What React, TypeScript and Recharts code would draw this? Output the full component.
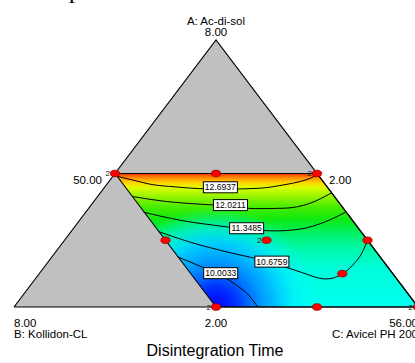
import { ComposedChart, XAxis, YAxis, Area, Line, Scatter } from 'recharts';

// Mixture: A = Ac-di-sol (2-8), B = Kollidon-CL (2-8), C = Avicel PH 200 (50-56), A + B + C = 60
// every point below is [A, C]; B is whatever is left
type Mix = [number, number];

const triangleCorners: Mix[] = [[2, 50], [8, 50], [2, 56], [2, 50]];
const regionCorners: Mix[] = [[5, 50], [5, 53], [2, 56], [2, 53], [5, 50]];
const regionTop: Mix[] = [[5, 50], [5, 51.5], [5, 53], [2, 56]];
const regionBottom: Mix[] = [[5, 50], [2, 53], [2, 54.5], [2, 56]];
const grayTop: Mix[] = [[5, 50], [8, 50], [5, 53]];
const grayLeft: Mix[] = [[2, 50], [5, 50], [2, 53]];
const lowestCorner: Mix = [2, 53];

const contourLevels = ['12.6937', '12.0211', '11.3485', '10.6759', '10.0033'];
const contourLines: Mix[][] = [
  [[4.94, 50.05], [4.84, 50.38], [4.76, 50.64], [4.70, 51.04], [4.66, 51.43], [4.65, 51.88],
    [4.67, 52.32], [4.75, 52.65], [4.82, 52.84], [4.91, 52.97], [4.97, 53.01]],
  [[4.48, 50.53], [4.37, 51.08], [4.31, 51.61], [4.27, 52.07], [4.21, 52.47], [4.22, 52.91],
    [4.33, 53.23], [4.56, 53.43]],
  [[4.13, 50.86], [3.95, 51.49], [3.82, 52.15], [3.74, 52.63], [3.71, 53.02], [3.75, 53.37],
    [3.91, 53.66], [4.13, 53.86]],
  [[3.69, 51.31], [3.46, 51.88], [3.22, 52.60], [3.01, 53.30], [2.79, 53.85], [2.63, 54.32],
    [2.75, 54.51], [2.94, 54.56], [3.21, 54.56], [3.51, 54.50]],
  [[3.13, 51.86], [2.92, 52.30], [2.70, 52.74], [2.49, 53.06], [2.25, 53.37], [2.00, 53.62]],
];
const contourLabelSpots: Mix[] = [[4.69, 51.72], [4.29, 52.07], [3.77, 52.57], [3.02, 53.32], [2.76, 52.69]];

// design points and their replicate counts
const designPoints: Mix[] = [
  [5, 50], [5, 51.5], [5, 53], [3.5, 51.5], [3.5, 53], [3.5, 54.5],
  [2.75, 54.5], [2, 53], [2, 54.5], [2, 56],
];
const replicates = [2, 1, 2, 1, 2, 1, 1, 2, 1, 2];

const vertexSpots: Mix[] = [[8, 50], [2, 50], [2, 56], [5, 50], [5, 53], [2, 53]];
const vertexTexts = [
  ['A: Ac-di-sol', '8.00'],
  ['8.00', 'B: Kollidon-CL'],
  ['56.00', 'C: Avicel PH 200'],
  ['50.00'],
  ['2.00'],
  ['2.00'],
];
const vertexPlacement = [
  { anchor: 'middle', dx: 0, dy: -15.5 },
  { anchor: 'start', dx: 0, dy: 19.5 },
  { anchor: 'end', dx: 0, dy: 19.5 },
  { anchor: 'end', dx: -13, dy: 10 },
  { anchor: 'start', dx: 12, dy: 10 },
  { anchor: 'middle', dx: 0, dy: 19.5 },
];

const FONT = 'Liberation Sans, Arial, sans-serif';
const MARGIN = { top: 40, right: 12, bottom: 56, left: 14 };
const CHART_W = 430;
const CHART_H = 363;
const PLOT_W = CHART_W - MARGIN.left - MARGIN.right;
const PLOT_H = CHART_H - MARGIN.top - MARGIN.bottom;

const toXY = ([A, C]: Mix) => {
  const a = (A - 2) / 6;
  const c = (C - 50) / 6;
  return { x: c + a / 2, y: a };
};

const regionData = regionTop.map((t, i) => {
  const top = toXY(t);
  const bottom = toXY(regionBottom[i]);
  return { x: top.x, range: [bottom.y, top.y] };
});

function ContourLabel(props: any) {
  const { cx, cy, payload } = props;
  return (
    <g>
      <rect x={cx - 17} y={cy - 5.5} width={34} height={11} fill="#fff" stroke="#000" strokeWidth={1} />
      <text x={cx} y={cy + 3.2} textAnchor="middle" fontFamily={FONT} fontSize={8.6} fill="#000">
        {payload.label}
      </text>
    </g>
  );
}

function DesignDot(props: any) {
  const { cx, cy, payload } = props;
  return (
    <g>
      {payload.reps > 1 && (
        <text x={cx - 5} y={cy + 2.5} textAnchor="end" fontFamily={FONT} fontSize={8} fill="#222">
          {payload.reps}
        </text>
      )}
      <ellipse cx={cx} cy={cy} rx={4.6} ry={3.3} fill="#ff0000" stroke="#990000" strokeWidth={0.8} />
    </g>
  );
}

function VertexText(props: any) {
  const { cx, cy, payload } = props;
  return (
    <g>
      {payload.lines.map((t: string, i: number) => (
        <text
          key={t + i}
          x={cx + payload.dx}
          y={cy + payload.dy + i * 11.5}
          textAnchor={payload.anchor}
          fontFamily={FONT}
          fontSize={11.5}
          fill="#000"
        >
          {t}
        </text>
      ))}
    </g>
  );
}

export default function App() {
  const labelData = contourLabelSpots.map((m, i) => ({ ...toXY(m), label: contourLevels[i] }));
  const dotData = designPoints.map((m, i) => ({ ...toXY(m), reps: replicates[i] }));
  const vertexData = vertexSpots.map((m, i) => ({ ...toXY(m), lines: vertexTexts[i], ...vertexPlacement[i] }));

  // centre of the blue glow: the low corner of the region, in svg pixels
  const low = toXY(lowestCorner);
  const glowX = MARGIN.left + low.x * PLOT_W;
  const glowY = MARGIN.top + (1 - low.y) * PLOT_H;

  return (
    <div style={{ position: 'absolute', left: 0, top: 0, width: 415, height: 363, overflow: 'hidden', background: '#fff' }}>
      <svg width={415} height={10} style={{ position: 'absolute', left: 0, top: 0 }}>
        <text x={69} y={-2.2} fontFamily="Liberation Serif, serif" fontSize={24} fill="#000">p</text>
      </svg>
      <ComposedChart
        width={CHART_W}
        height={CHART_H}
        margin={MARGIN}
        style={{ position: 'absolute', left: 0, top: 0 }}
      >
        <defs>
          <linearGradient id="heat" x1="0" y1="0" x2="0" y2="1">
            <stop offset="0" stopColor="#ee3300" />
            <stop offset="0.03" stopColor="#ff8800" />
            <stop offset="0.07" stopColor="#ffd800" />
            <stop offset="0.11" stopColor="#d8ff00" />
            <stop offset="0.17" stopColor="#98f400" />
            <stop offset="0.25" stopColor="#48ec00" />
            <stop offset="0.34" stopColor="#10ea10" />
            <stop offset="0.44" stopColor="#00f060" />
            <stop offset="0.56" stopColor="#00f8a8" />
            <stop offset="0.7" stopColor="#00fcd8" />
            <stop offset="1" stopColor="#00fff0" />
          </linearGradient>
          <radialGradient id="lowCorner" gradientUnits="userSpaceOnUse" cx={glowX} cy={glowY} r={100}>
            <stop offset="0" stopColor="#0000ff" stopOpacity={1} />
            <stop offset="0.2" stopColor="#0030ff" stopOpacity={1} />
            <stop offset="0.32" stopColor="#0068ff" stopOpacity={1} />
            <stop offset="0.45" stopColor="#0098ff" stopOpacity={1} />
            <stop offset="0.62" stopColor="#00c8ff" stopOpacity={1} />
            <stop offset="0.8" stopColor="#00ecff" stopOpacity={0.6} />
            <stop offset="1" stopColor="#00ffff" stopOpacity={0} />
          </radialGradient>
        </defs>
        <XAxis type="number" dataKey="x" domain={[0, 1]} hide />
        <YAxis type="number" dataKey="y" domain={[0, 1]} hide />

        <Area data={grayTop.map(toXY)} dataKey="y" type="linear" baseValue={0.5}
          fill="#c0c0c0" fillOpacity={1} stroke="none" isAnimationActive={false} />
        <Area data={grayLeft.map(toXY)} dataKey="y" type="linear" baseValue={0}
          fill="#c0c0c0" fillOpacity={1} stroke="none" isAnimationActive={false} />
        <Area data={regionData} dataKey="range" type="linear"
          fill="url(#heat)" fillOpacity={1} stroke="none" isAnimationActive={false} />
        <Area data={regionData} dataKey="range" type="linear"
          fill="url(#lowCorner)" fillOpacity={1} stroke="none" isAnimationActive={false} />

        {contourLines.map((pts, i) => (
          <Line key={contourLevels[i]} data={pts.map(toXY)} dataKey="y" type="monotone"
            stroke="#000" strokeWidth={1} dot={false} isAnimationActive={false} />
        ))}

        <Line data={triangleCorners.map(toXY)} dataKey="y" type="linear"
          stroke="#000" strokeWidth={1.15} dot={false} isAnimationActive={false} />
        <Line data={regionCorners.map(toXY)} dataKey="y" type="linear"
          stroke="#000" strokeWidth={1.15} dot={false} isAnimationActive={false} />

        <Scatter data={labelData} dataKey="y" shape={<ContourLabel />} isAnimationActive={false} />
        <Scatter data={dotData} dataKey="y" shape={<DesignDot />} isAnimationActive={false} />
        <Scatter data={vertexData} dataKey="y" shape={<VertexText />} isAnimationActive={false} />
      </ComposedChart>
      <div
        style={{
          position: 'absolute', left: 0, top: 342, width: 430, textAlign: 'center',
          fontFamily: FONT, fontSize: 16, lineHeight: '18px', color: '#000',
        }}
      >
        Disintegration Time
      </div>
    </div>
  );
}
